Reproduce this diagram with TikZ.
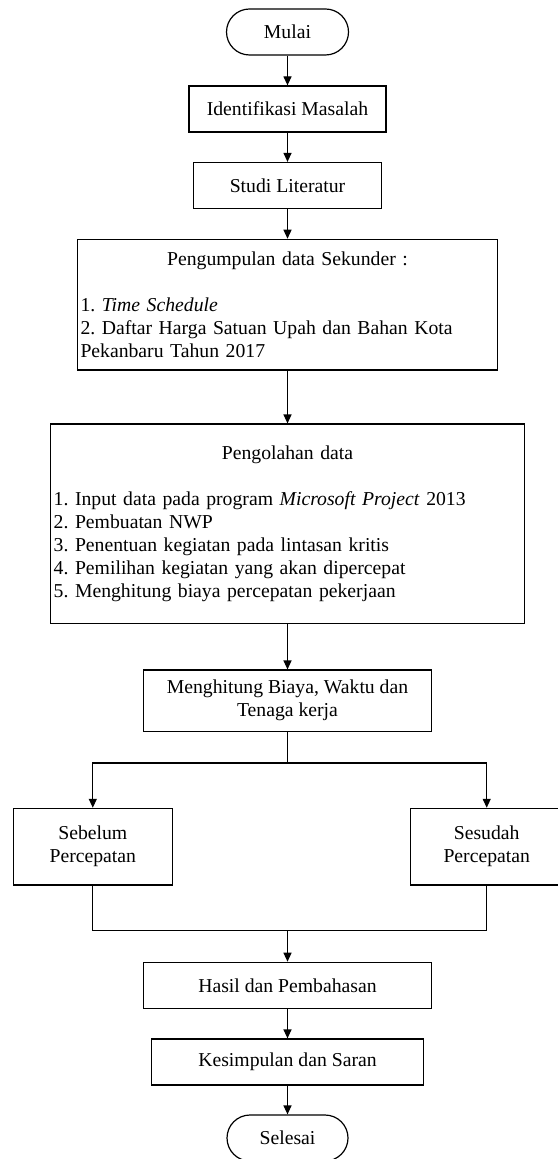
\documentclass[tikz,border=0pt]{standalone}
\usepackage{fontspec}
\setmainfont{Liberation Serif}
\usetikzlibrary{positioning,arrows.meta}

\tikzset{
  proses/.style={draw,rectangle,inner sep=0pt,minimum height=23pt,align=center},
  terminal/.style={draw,rectangle,rounded corners=11.5pt,inner sep=0pt,minimum height=23pt,minimum width=61pt},
}

\begin{document}
\begin{tikzpicture}[node distance=38.5pt,on grid,line width=0.6pt,
    >={Triangle[length=4.5pt,width=4pt]},font=\fontsize{9.85pt}{11.5pt}\selectfont\frenchspacing]
    \useasboundingbox (0,0) rectangle (278.5pt,-579.5pt);
    \node[terminal] (mulai) at (143.75pt,-16pt) {Mulai};
    \node[proses,minimum width=98.5pt] (identifikasi) [below=of mulai] {Identifikasi Masalah};
    \node[proses,minimum width=94pt] (studi) [below=38.25pt of identifikasi] {Studi Literatur};
    \node[proses,minimum width=210pt,minimum height=65.35pt,text width=207pt,align=left,inner xsep=1.5pt]
      (kumpul) [below=59.6pt of studi]
      {\centering Pengumpulan data Sekunder :\par
       \vspace{\baselineskip}\raggedright
       1. \textit{Time Schedule}\\
       2. Daftar Harga Satuan Upah dan Bahan Kota\\
       Pekanbaru Tahun 2017};
    \node[proses,minimum width=236.8pt,minimum height=99.65pt,text width=233.8pt,align=left,inner xsep=1.5pt]
      (olah) [below=109.5pt of kumpul]
      {\centering Pengolahan data\par
       \vspace{\baselineskip}\raggedright
       1. Input data pada program \textit{Microsoft Project} 2013\\
       2. Pembuatan NWP\\
       3. Penentuan kegiatan pada lintasan kritis\\
       4. Pemilihan kegiatan yang akan dipercepat\\
       5. Menghitung biaya percepatan pekerjaan\par
       \vspace{8.5pt}};
    \node[proses,minimum width=143.8pt,minimum height=30.65pt] (hitung) [below=88.5pt of olah]
      {Menghitung Biaya, Waktu dan\\Tenaga kerja};
    \node[proses,minimum width=79.5pt,minimum height=38.35pt] (sebelum) [below left=73pt and 97.35pt of hitung]
      {Sebelum\\Percepatan};
    \node[proses,minimum width=76pt,minimum height=38.35pt] (sesudah) [below right=73pt and 99.6pt of hitung]
      {Sesudah\\Percepatan};
    \node[proses,minimum width=144.2pt] (hasil) [below=142.3pt of hitung] {Hasil dan Pembahasan};
    \node[proses,minimum width=136.15pt] (simpul) [below=38.35pt of hasil] {Kesimpulan dan Saran};
    \node[terminal,minimum width=60.5pt] (selesai) [below=38pt of simpul] {Selesai};

    \coordinate[below=15.5pt of hitung.south] (pisah);
    \coordinate[above=15.5pt of hasil.north] (gabung);

    \path[->]
    (mulai) edge (identifikasi)
    (identifikasi) edge (studi)
    (studi) edge (kumpul)
    (kumpul) edge (olah)
    (olah) edge (hitung)
    (hasil) edge (simpul)
    (simpul) edge (selesai);
    \draw (hitung) -- (pisah);
    \draw[->] (pisah) -| (sebelum);
    \draw[->] (pisah) -| (sesudah);
    \draw (sebelum) |- (gabung) -| (sesudah);
    \draw[->] (gabung) -- (hasil);
\end{tikzpicture}
\end{document}
